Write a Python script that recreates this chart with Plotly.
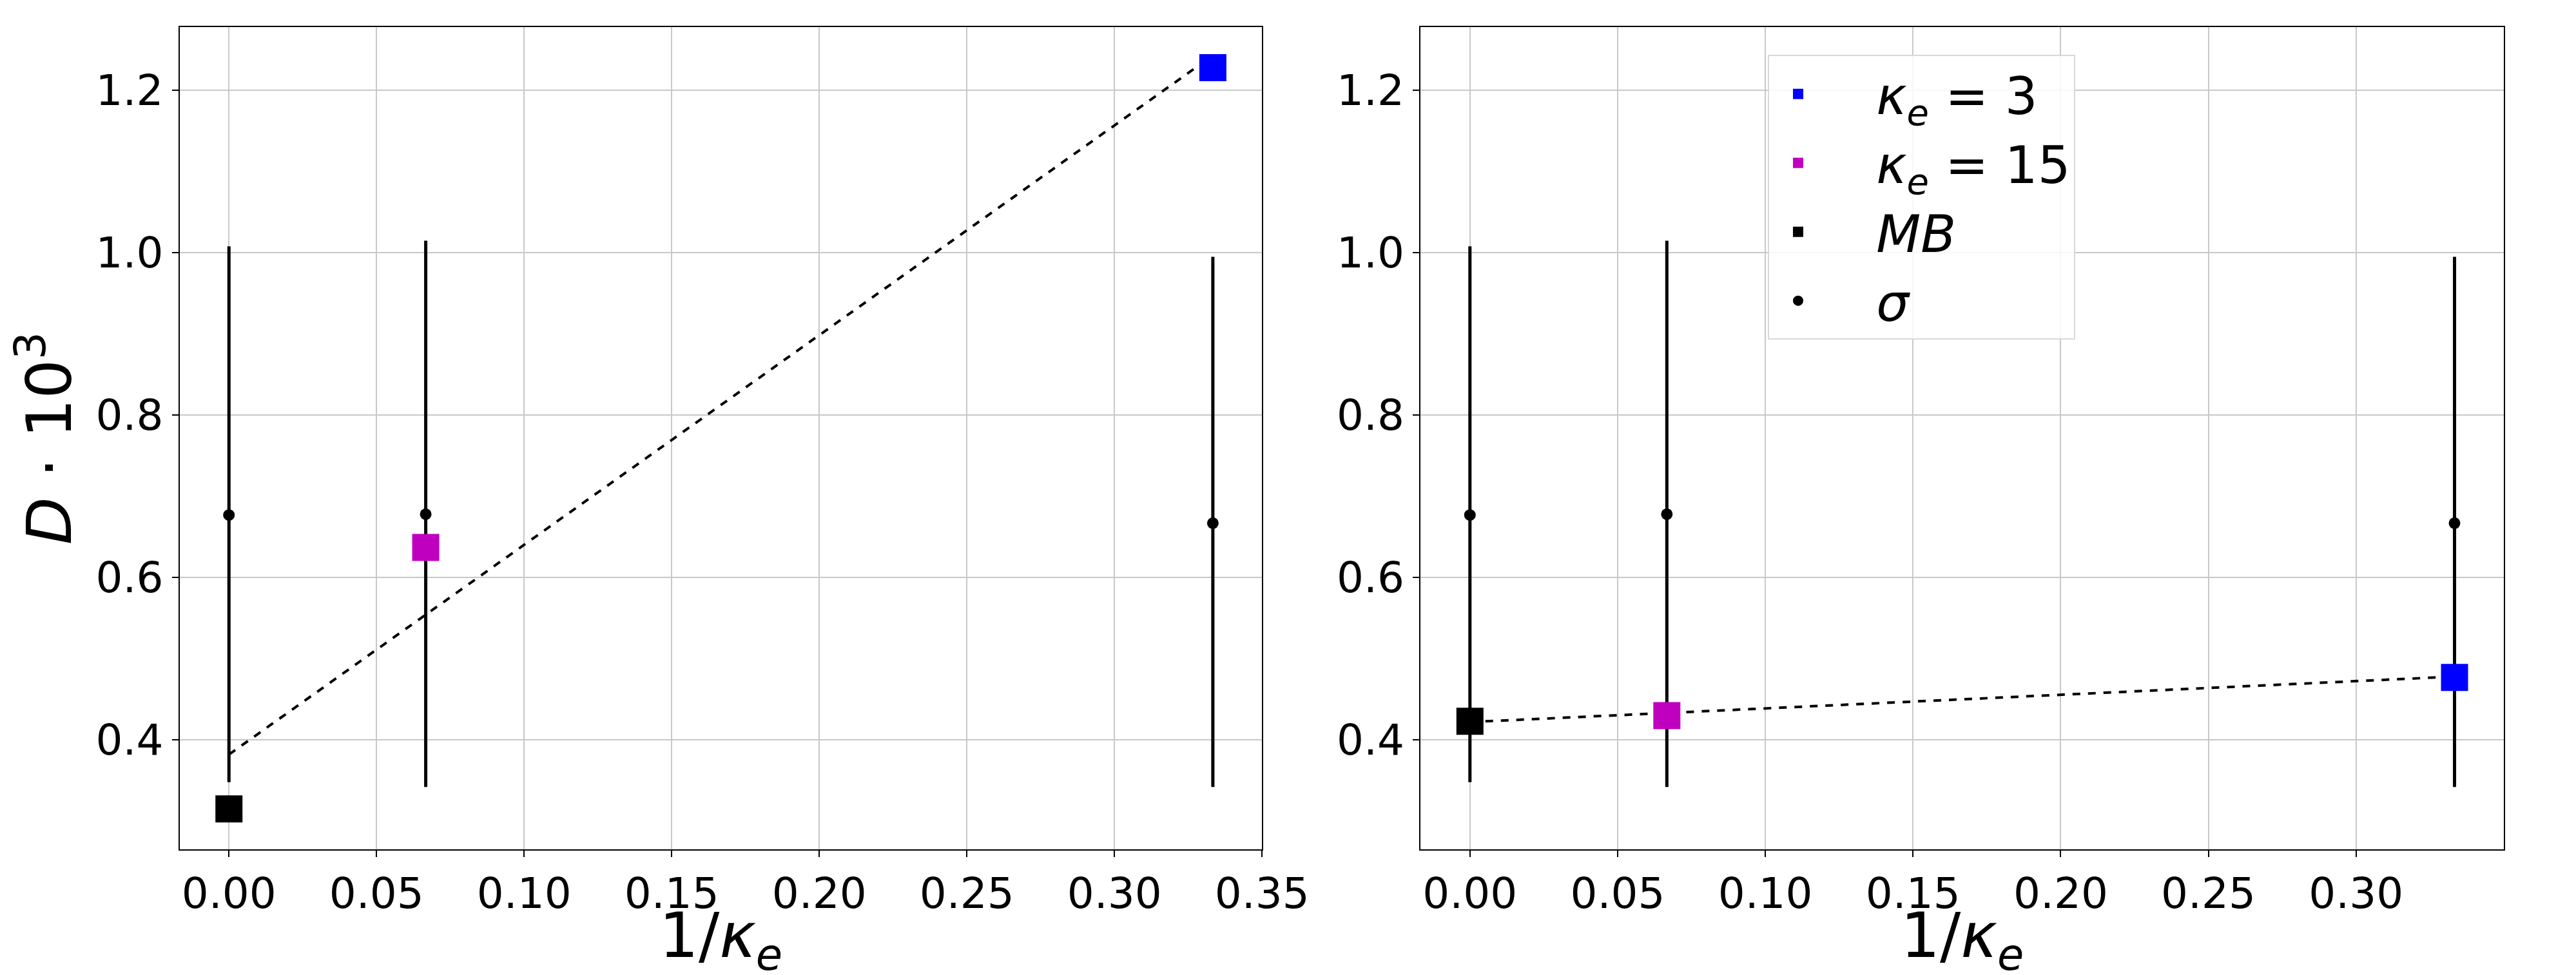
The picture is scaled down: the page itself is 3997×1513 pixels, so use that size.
import plotly.graph_objects as go
from plotly.subplots import make_subplots

inv_kappa = [0.0, 1 / 15, 1 / 3]

# left panel
D_left = [0.315, 0.637, 1.228]
fit_left = [0.382, 1.243]
# right panel
D_right = [0.423, 0.430, 0.477]
fit_right = [0.422, 0.478]
# sigma reference
sigma_mean = [0.677, 0.678, 0.667]
sigma_up = [0.331, 0.337, 0.328]
sigma_down = [0.329, 0.336, 0.325]

colors = ["black", "#bf00bf", "blue"]
names = ["   <i>MB</i>", "   <i>κ<sub>e</sub></i> = 15", "   <i>κ<sub>e</sub></i> = 3"]
FONT = "DejaVu Sans"

fig = make_subplots(rows=1, cols=2)

for col, D, fit in [(1, D_left, fit_left), (2, D_right, fit_right)]:
    show = col == 2
    fig.add_trace(go.Scatter(
        x=inv_kappa, y=sigma_mean, mode="markers",
        marker=dict(color="black", size=18),
        error_y=dict(type="data", symmetric=False, array=sigma_up, arrayminus=sigma_down,
                     color="black", thickness=5, width=0),
        showlegend=False), row=1, col=col)
    fig.add_trace(go.Scatter(
        x=[inv_kappa[0], inv_kappa[2]], y=fit, mode="lines",
        line=dict(color="black", width=4, dash="dash"), showlegend=False), row=1, col=col)
    for i in [2, 1, 0]:
        fig.add_trace(go.Scatter(
            x=[inv_kappa[i]], y=[D[i]], mode="markers",
            marker=dict(symbol="square", color=colors[i], size=42),
            name=names[i], showlegend=show, legendrank=3 - i), row=1, col=col)

# legend entry for sigma
fig.add_trace(go.Scatter(
    x=[None], y=[None], mode="markers",
    marker=dict(color="black", size=18),
    error_y=dict(type="constant", value=1, color="black", thickness=5, width=0),
    name="   <i>σ</i>", legendrank=4), row=1, col=2)

axis_common = dict(showgrid=True, gridcolor="#c8c8c8", gridwidth=2, zeroline=False,
                   showline=True, linecolor="black", linewidth=2, mirror=True,
                   ticks="outside", ticklen=10, tickwidth=2, tickcolor="black",
                   tickfont=dict(size=66, family=FONT, color="black"))
xtitle = dict(text="1/<i>κ<sub>e</sub></i>", font=dict(size=96, family=FONT, color="black"), standoff=8)

fig.update_xaxes(**axis_common, range=[-0.0167, 0.35], title=xtitle)
fig.update_xaxes(tickvals=[0, 0.05, 0.1, 0.15, 0.2, 0.25, 0.3, 0.35],
                 ticktext=["0.00", "0.05", "0.10", "0.15", "0.20", "0.25", "0.30", "0.35"],
                 domain=[0.069, 0.497], row=1, col=1)
fig.update_xaxes(tickvals=[0, 0.05, 0.1, 0.15, 0.2, 0.25, 0.3],
                 ticktext=["0.00", "0.05", "0.10", "0.15", "0.20", "0.25", "0.30"],
                 domain=[0.5597, 0.988], row=1, col=2)
fig.update_yaxes(**axis_common, range=[0.265, 1.278], tickvals=[0.4, 0.6, 0.8, 1.0, 1.2],
                 ticktext=["0.4", "0.6", "0.8", "1.0", "1.2"], domain=[0.134, 0.9775])
fig.update_yaxes(title=dict(text="<i>D</i> · 10<sup>3</sup>",
                            font=dict(size=96, family=FONT, color="black"), standoff=12),
                 row=1, col=1)

fig.update_layout(
    width=3997, height=1513, plot_bgcolor="white", paper_bgcolor="white",
    margin=dict(l=0, r=0, t=0, b=0),
    font=dict(family=FONT),
    legend=dict(x=0.697, y=0.949, xanchor="left", yanchor="top",
                bgcolor="rgba(255,255,255,0.85)", bordercolor="#d8d8d8", borderwidth=2,
                font=dict(size=80, family=FONT, color="black"),
                itemsizing="trace", itemwidth=80, tracegroupgap=30),
)

fig.write_html("out.html")
